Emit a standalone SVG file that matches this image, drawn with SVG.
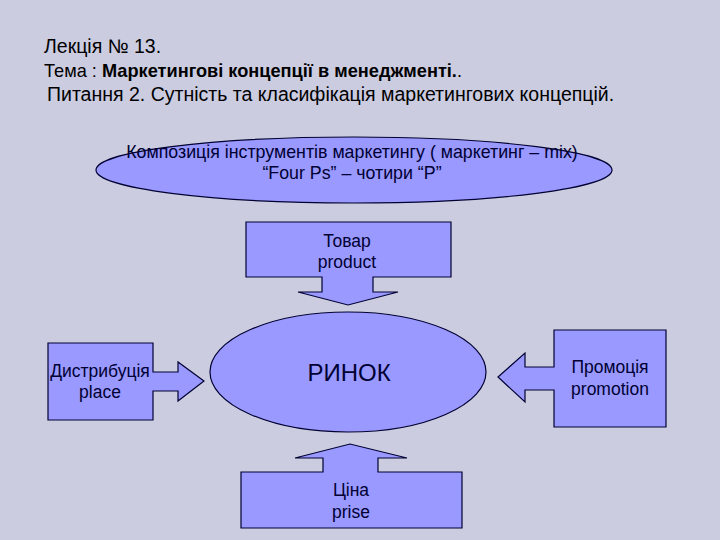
<svg xmlns="http://www.w3.org/2000/svg" width="720" height="540" viewBox="0 0 720 540">
<style>
.bg{fill:#CCCCE0}
.shp{fill:#9999FF;stroke:#000033;stroke-width:1.2}
.t{font-family:"Liberation Sans",Arial,sans-serif;fill:#000000;font-size:19.5px}
.n{font-family:"Liberation Sans",Arial,sans-serif;fill:#000033;text-anchor:middle;font-size:17.5px}
</style>
<rect class="bg" x="0" y="0" width="720" height="540"/>
<g id="title">
<text class="t" x="44" y="53">Лекція № 13.</text>
<text class="t" x="44" y="77" style="font-size:18.2px">Тема : <tspan font-weight="bold">Маркетингові концепції в менеджменті.</tspan>.</text>
<text class="t" x="47" y="101">Питання 2. Сутність та класифікація маркетингових концепцій.</text>
</g>
<g id="mix">
<ellipse class="shp" cx="354" cy="170" rx="258" ry="33"/>
<text class="n" x="352" y="158" style="font-size:17.8px">Композиція інструментів маркетингу ( маркетинг – mix)</text>
<text class="n" x="352" y="179" style="font-size:17.8px">“Four Ps” – чотири “P”</text>
</g>
<g id="market">
<ellipse class="shp" cx="348" cy="372" rx="138" ry="60"/>
<text class="n" x="349" y="381" style="font-size:24px">РИНОК</text>
</g>
<g id="product">
<path class="shp" d="M246,222 H451 V277 H373 V292 H398 L348,305 L298,292 H322 V277 H246 Z"/>
<text class="n" x="347" y="247">Товар</text>
<text class="n" x="347" y="268">product</text>
</g>
<g id="place">
<path class="shp" d="M48,343 H153 V372 H178 V362 L204,381 L178,401 V391 H153 V420 H48 Z"/>
<text class="n" x="100" y="377">Дистрибуція</text>
<text class="n" x="100" y="398">place</text>
</g>
<g id="promotion">
<path class="shp" d="M554,330 H666 V427 H554 V390 H525 V402 L498,377 L525,353 V367 H554 Z"/>
<text class="n" x="610" y="373">Промоція</text>
<text class="n" x="610" y="395">promotion</text>
</g>
<g id="price">
<path class="shp" d="M241,472 H323 V458 H295 L350,444 L407,458 H378 V472 H462 V528 H241 Z"/>
<text class="n" x="351" y="496">Ціна</text>
<text class="n" x="351" y="518">prise</text>
</g>
<g id="connectors"></g>
</svg>
